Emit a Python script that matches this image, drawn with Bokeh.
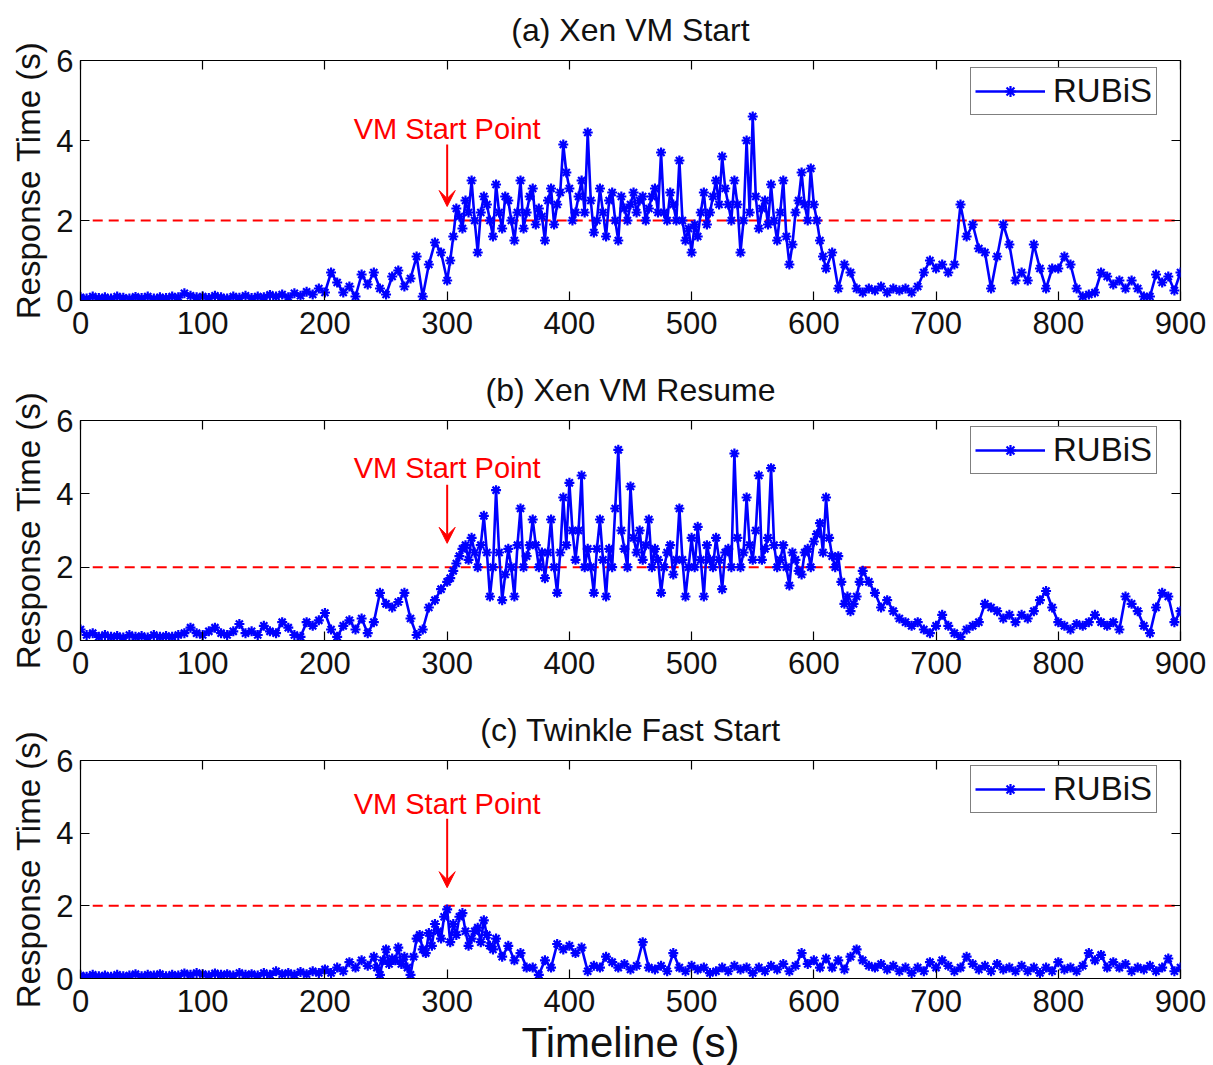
from bokeh.plotting import figure
from bokeh.models import Range1d, LinearAxis, FixedTicker, Label, Arrow, VeeHead, Legend, LegendItem
from bokeh.layouts import column
from bokeh.embed import file_html
from bokeh.resources import INLINE

# ---------------- data ----------------
# main readings every 5 s
TIME = list(range(0, 901, 5))

XEN_START = [
    0.08, 0.05, 0.10, 0.06, 0.08, 0.05, 0.10, 0.07, 0.05, 0.09,
    0.06, 0.10, 0.05, 0.08, 0.06, 0.10, 0.08, 0.18, 0.12, 0.08,
    0.10, 0.06, 0.12, 0.08, 0.05, 0.10, 0.07, 0.12, 0.06, 0.10,
    0.08, 0.14, 0.10, 0.15, 0.08, 0.18, 0.12, 0.22, 0.15, 0.30,
    0.20, 0.70, 0.45, 0.20, 0.35, 0.10, 0.65, 0.40, 0.70, 0.30,
    0.15, 0.60, 0.75, 0.35, 0.55, 1.10, 0.10, 0.90, 1.45, 1.20,
    0.50, 1.60, 2.10, 2.50, 3.00, 1.20, 2.60, 2.00, 2.90, 1.80,
    2.50, 1.50, 3.00, 2.20, 2.80, 2.30, 1.50, 2.80, 2.40, 3.90,
    2.80, 2.20, 3.00, 4.20, 1.70, 2.80, 1.60, 2.70, 1.50, 2.30,
    2.40, 2.20, 2.60, 2.30, 2.80, 3.70, 2.00, 2.40, 3.50, 1.50,
    1.20, 1.60, 2.70, 2.20, 3.00, 3.60, 2.40, 3.00, 1.20, 4.00,
    4.60, 1.80, 2.50, 2.90, 1.50, 3.00, 0.90, 2.20, 3.20, 2.00,
    2.40, 1.50, 0.80, 1.20, 0.30, 0.90, 0.70, 0.30, 0.20, 0.30,
    0.25, 0.35, 0.20, 0.30, 0.25, 0.30, 0.20, 0.35, 0.70, 1.00,
    0.80, 0.90, 0.70, 0.90, 2.40, 1.60, 1.90, 1.30, 1.20, 0.30,
    1.10, 1.90, 1.40, 0.50, 0.70, 0.50, 1.40, 0.80, 0.30, 0.80,
    0.80, 1.10, 0.90, 0.30, 0.10, 0.15, 0.20, 0.70, 0.60, 0.40,
    0.50, 0.30, 0.50, 0.30, 0.10, 0.10, 0.65, 0.45, 0.60, 0.25,
    0.70,
]
# extra readings in the busy stretch, at 302.5, 307.5, ... 607.5 s
XEN_START_EXTRA_T0 = 302.5
XEN_START_EXTRA = [
    1.00, 2.30, 1.80, 2.20, 2.00, 2.20, 2.40, 1.60, 2.20, 2.60,
    2.00, 2.20, 1.80, 2.60, 1.90, 2.10, 2.50, 1.90, 2.70, 3.20,
    2.00, 2.60, 2.20, 2.50, 2.00, 2.20, 2.50, 2.00, 2.60, 2.00,
    2.70, 2.50, 2.00, 2.60, 2.20, 2.20, 2.70, 2.00, 2.00, 1.80,
    1.90, 2.20, 1.90, 2.60, 2.40, 2.80, 2.00, 2.40, 2.00, 2.20,
    2.60, 2.30, 1.90, 2.00, 2.20, 1.60, 1.40, 2.50, 2.40, 3.30,
    2.00, 1.10,
]

XEN_RESUME = [
    0.30, 0.15, 0.20, 0.10, 0.15, 0.10, 0.12, 0.08, 0.15, 0.10,
    0.12, 0.08, 0.15, 0.10, 0.12, 0.10, 0.15, 0.20, 0.35, 0.20,
    0.15, 0.25, 0.35, 0.20, 0.15, 0.25, 0.45, 0.20, 0.25, 0.15,
    0.40, 0.25, 0.20, 0.50, 0.35, 0.15, 0.10, 0.50, 0.40, 0.55,
    0.75, 0.30, 0.10, 0.40, 0.55, 0.30, 0.60, 0.20, 0.50, 1.30,
    1.00, 0.90, 1.05, 1.30, 0.60, 0.15, 0.30, 0.90, 1.10, 1.40,
    1.60, 1.90, 2.30, 2.60, 2.80, 2.00, 3.40, 1.20, 4.10, 1.10,
    2.50, 1.20, 3.60, 2.30, 3.30, 2.00, 1.70, 3.30, 1.30, 3.90,
    4.30, 2.20, 4.50, 2.50, 1.30, 3.30, 1.20, 2.00, 5.20, 2.50,
    4.20, 2.40, 2.20, 3.30, 2.50, 1.30, 2.40, 1.80, 3.60, 1.20,
    2.80, 3.10, 1.20, 2.20, 2.80, 1.40, 2.50, 5.10, 2.00, 3.90,
    2.20, 4.50, 2.50, 4.70, 2.00, 2.60, 1.50, 2.20, 1.80, 2.50,
    2.70, 3.20, 3.90, 2.30, 2.30, 1.00, 0.80, 1.20, 1.90, 1.60,
    1.30, 0.90, 1.10, 0.80, 0.60, 0.50, 0.40, 0.50, 0.30, 0.20,
    0.40, 0.70, 0.40, 0.20, 0.10, 0.30, 0.40, 0.50, 1.00, 0.90,
    0.80, 0.60, 0.70, 0.50, 0.70, 0.60, 0.80, 1.10, 1.35, 0.90,
    0.50, 0.40, 0.30, 0.45, 0.40, 0.50, 0.70, 0.50, 0.40, 0.50,
    0.30, 1.20, 1.00, 0.80, 0.40, 0.20, 0.90, 1.30, 1.20, 0.50,
    0.80,
]
# extra readings at 302.5, 307.5, ... 637.5 s
XEN_RESUME_EXTRA_T0 = 302.5
XEN_RESUME_EXTRA = [
    1.70, 2.10, 2.50, 2.20, 2.40, 2.60, 2.40, 2.00, 2.40, 1.80,
    2.00, 2.60, 2.00, 2.60, 2.60, 2.40, 2.40, 2.00, 2.40, 2.60,
    3.00, 3.00, 2.00, 2.00, 2.50, 2.20, 2.50, 3.60, 3.00, 2.00,
    2.80, 3.00, 2.60, 2.00, 2.20, 2.00, 2.60, 2.20, 2.20, 2.00,
    2.00, 2.20, 2.60, 2.00, 2.20, 2.40, 2.00, 2.80, 2.40, 2.60,
    3.00, 2.20, 2.80, 2.60, 2.20, 2.00, 2.40, 1.90, 2.40, 2.00,
    2.90, 2.40, 2.80, 2.00, 1.60, 1.20, 1.00, 1.60,
]

TWINKLE = [
    0.08, 0.05, 0.10, 0.06, 0.08, 0.05, 0.10, 0.06, 0.08, 0.12,
    0.06, 0.10, 0.08, 0.12, 0.06, 0.10, 0.08, 0.14, 0.10, 0.15,
    0.12, 0.08, 0.14, 0.10, 0.12, 0.08, 0.15, 0.10, 0.12, 0.08,
    0.15, 0.10, 0.20, 0.12, 0.15, 0.10, 0.18, 0.12, 0.20, 0.15,
    0.25, 0.15, 0.30, 0.20, 0.45, 0.30, 0.50, 0.35, 0.60, 0.10,
    0.80, 0.55, 0.85, 0.60, 0.10, 1.10, 0.80, 1.25, 1.50, 1.10,
    1.90, 1.50, 1.70, 1.30, 1.10, 1.40, 1.60, 0.90, 1.10, 0.60,
    0.90, 0.50, 0.70, 0.30, 0.30, 0.10, 0.50, 0.30, 0.95, 0.80,
    0.90, 0.70, 0.85, 0.20, 0.35, 0.30, 0.60, 0.45, 0.30, 0.40,
    0.25, 0.35, 1.00, 0.30, 0.25, 0.35, 0.20, 0.70, 0.30, 0.20,
    0.35, 0.25, 0.30, 0.15, 0.20, 0.30, 0.20, 0.35, 0.25, 0.30,
    0.15, 0.30, 0.20, 0.35, 0.25, 0.40, 0.20, 0.35, 0.70, 0.40,
    0.50, 0.30, 0.55, 0.30, 0.50, 0.25, 0.60, 0.80, 0.50, 0.35,
    0.30, 0.40, 0.25, 0.35, 0.20, 0.30, 0.15, 0.30, 0.20, 0.45,
    0.30, 0.50, 0.35, 0.20, 0.30, 0.60, 0.40, 0.25, 0.35, 0.20,
    0.40, 0.25, 0.30, 0.20, 0.35, 0.20, 0.30, 0.15, 0.30, 0.20,
    0.45, 0.25, 0.30, 0.20, 0.35, 0.70, 0.50, 0.65, 0.30, 0.45,
    0.30, 0.40, 0.20, 0.30, 0.25, 0.35, 0.20, 0.30, 0.55, 0.20,
    0.30,
]
# extra readings at 242.5, 247.5, ... 337.5 s
TWINKLE_EXTRA_T0 = 242.5
TWINKLE_EXTRA = [
    0.30, 0.50, 0.40, 0.50, 0.40, 0.30, 0.60, 1.20, 0.70, 0.90,
    1.30, 1.70, 1.00, 1.20, 1.80, 0.90, 1.30, 1.00, 1.20, 0.80,
]

TITLES = ["(a) Xen VM Start", "(b) Xen VM Resume", "(c) Twinkle Fast Start"]
SERIES_NAME = "RUBiS"
X_TICKS = [0, 100, 200, 300, 400, 500, 600, 700, 800, 900]
Y_TICKS = [0, 2, 4, 6]
THRESHOLD = 2.0
THRESHOLD_X = [10, 900]
VM_START = 300
ANNOT_TEXT = "VM Start Point"
# (label y, arrow start y, arrow end y) per panel
ANNOT_Y = [(4.3, 3.9, 2.35), (4.7, 4.25, 2.65), (4.8, 4.4, 2.5)]

FONT = "Liberation Sans"
BLUE = "#0000ff"
RED = "#ff0000"
INK = "#111111"


def merged(base, extra_t0, extra):
    pts = list(zip(TIME, base))
    pts += [(extra_t0 + 5 * i, v) for i, v in enumerate(extra)]
    pts.sort()
    return [t for t, _ in pts], [v for _, v in pts]


def make_panel(title, xs, ys, annot, frame_h, top, bottom, legend_y, xlabel=None):
    p = figure(frame_width=1100, frame_height=frame_h,
               x_range=Range1d(0, 900), y_range=Range1d(0, 6),
               output_backend="svg", toolbar_location=None,
               min_border_left=80, min_border_right=33,
               min_border_top=top, min_border_bottom=bottom,
               background_fill_color="white", border_fill_color="white")
    p.outline_line_color = "black"
    p.outline_line_width = 1.2
    p.grid.visible = False

    p.title.text = title
    p.title.align = "center"
    p.title.vertical_align = "top"
    p.title.text_font = FONT
    p.title.text_font_size = "32px"
    p.title.text_font_style = "normal"
    p.title.text_color = INK
    p.title.standoff = 21

    for ax in (p.xaxis[0], p.yaxis[0]):
        ax.major_label_text_font = FONT
        ax.major_label_text_font_size = "31px"
        ax.major_label_text_color = INK
        ax.major_tick_in = 9
        ax.major_tick_out = 0
        ax.minor_tick_line_color = None
        ax.axis_line_color = "black"
        ax.major_tick_line_color = "black"
        ax.major_tick_line_width = 1.2
        ax.axis_label_text_font = FONT
        ax.axis_label_text_font_style = "normal"
        ax.axis_label_text_color = INK
    p.xaxis.ticker = FixedTicker(ticks=X_TICKS)
    p.yaxis.ticker = FixedTicker(ticks=Y_TICKS)
    p.xaxis.major_label_standoff = 11
    p.yaxis.major_label_standoff = 7
    p.yaxis.axis_label = "Response Time (s)"
    p.yaxis.axis_label_text_font_size = "33px"
    p.yaxis.axis_label_standoff = 6
    if xlabel:
        p.xaxis.axis_label = xlabel
        p.xaxis.axis_label_text_font_size = "42px"
        p.xaxis.axis_label_standoff = 4

    # mirrored tick marks on top and right (no labels)
    top_ax = LinearAxis(ticker=FixedTicker(ticks=X_TICKS))
    right_ax = LinearAxis(ticker=FixedTicker(ticks=Y_TICKS))
    for ax in (top_ax, right_ax):
        ax.major_label_text_font_size = "1px"
        ax.major_label_text_color = None
        ax.major_label_standoff = 0
        ax.major_tick_in = 9
        ax.major_tick_out = 0
        ax.major_tick_line_width = 1.2
        ax.minor_tick_line_color = None
        ax.axis_line_color = None
    p.add_layout(top_ax, "above")
    p.add_layout(right_ax, "right")

    # threshold line
    p.line(THRESHOLD_X, [THRESHOLD] * len(THRESHOLD_X),
           line_color=RED, line_width=2, line_dash="10 6")

    ln = p.line(xs, ys, line_color=BLUE, line_width=2.6)
    sc = p.scatter(xs, ys, marker="asterisk", size=10,
                   line_color=BLUE, line_width=2.2)

    ly, ay0, ay1 = annot
    p.add_layout(Label(x=VM_START, y=ly, text=ANNOT_TEXT,
                       text_align="center", text_baseline="middle",
                       text_font=FONT, text_font_size="29px", text_color=RED))
    p.add_layout(Arrow(x_start=VM_START, y_start=ay0, x_end=VM_START, y_end=ay1,
                       line_color=RED, line_width=2,
                       end=VeeHead(size=16, fill_color=RED, line_color=RED)))

    legend = Legend(items=[LegendItem(label=SERIES_NAME, renderers=[ln, sc])],
                    location=(890, legend_y))
    legend.label_text_font = FONT
    legend.label_text_font_size = "33px"
    legend.label_text_color = INK
    legend.border_line_color = "black"
    legend.border_line_width = 1.5
    legend.padding = 4
    legend.margin = 0
    legend.glyph_width = 70
    legend.glyph_height = 28
    legend.label_height = 28
    legend.label_standoff = 8
    legend.spacing = 0
    p.add_layout(legend, "center")
    return p


xa, ya = merged(XEN_START, XEN_START_EXTRA_T0, XEN_START_EXTRA)
xb, yb = merged(XEN_RESUME, XEN_RESUME_EXTRA_T0, XEN_RESUME_EXTRA)
xc, yc = merged(TWINKLE, TWINKLE_EXTRA_T0, TWINKLE_EXTRA)

pa = make_panel(TITLES[0], xa, ya, ANNOT_Y[0], 240, 60, 58, 185)
pb = make_panel(TITLES[1], xb, yb, ANNOT_Y[1], 220, 62, 58, 166)
pc = make_panel(TITLES[2], xc, yc, ANNOT_Y[2], 218, 62, 85, 165, xlabel="Timeline (s)")

layout = column(pa, pb, pc, spacing=0)
open("out.html", "w").write(file_html(layout, INLINE))
